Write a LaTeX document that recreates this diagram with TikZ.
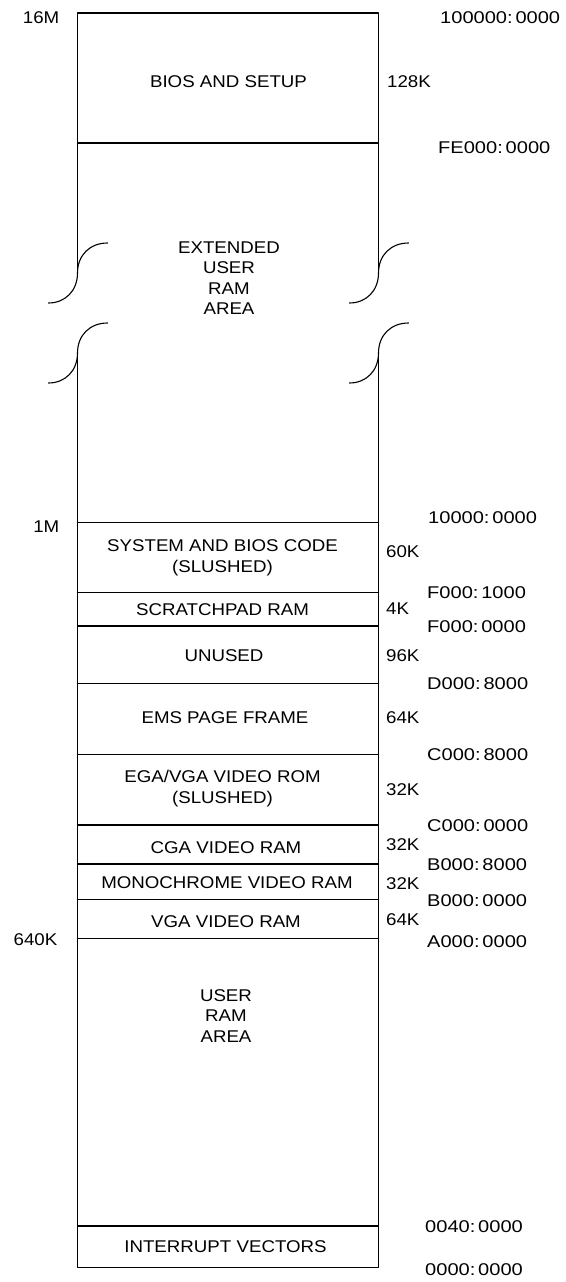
\documentclass[tikz,border=0pt]{standalone}
\usepackage{fontspec}
\setmainfont{Liberation Sans}[FakeStretch=1.1]
\newfontfamily\addrfont{Liberation Sans}[FakeStretch=1.18]
\begin{document}
\begin{tikzpicture}[x=1pt,y=-1pt]
\tikzset{
  wall/.style={line width=1.1pt, line cap=round, line join=round},
  lbl/.style={font=\fontsize{17}{20.5}\selectfont, inner sep=0pt, align=center},
  sizelbl/.style={lbl, anchor=west},
  addrlbl/.style={lbl, font=\addrfont\fontsize{17}{20.5}\selectfont, anchor=west},
  leftlbl/.style={lbl, anchor=east},
  memlbl/.style={lbl}
}
\useasboundingbox (0,0) rectangle (565,1282);
% corners
\coordinate (TL) at (77.5,13);
\coordinate (TR) at (378.5,13);
\coordinate (BL) at (77.5,1267.5);
\coordinate (BR) at (378.5,1267.5);
\coordinate (LA) at (77.5,273);
\coordinate (RA) at (378.5,273);
\coordinate (LB) at (77.5,353);
\coordinate (RB) at (378.5,353);
% outer walls
\draw[wall] (LA) -- (TL) -- (TR) -- (RA);
\draw[wall] (LB) -- (BL) -- (BR) -- (RB);
% dividers
\foreach \y in {143,522.5,592.5,626,683.5,754.5,825,864,899.5,938.5,1226}
  \draw[wall] (77.5,\y) -- (378.5,\y);
% break symbols
\foreach \dx in {0,301}{
  \foreach \dy in {0,80}{
    \draw[wall] (107.5+\dx,243+\dy) .. controls (90+\dx,243+\dy) and (77.5+\dx,255+\dy) .. (77.5+\dx,273+\dy)
      .. controls (77.5+\dx,291+\dy) and (65+\dx,303+\dy) .. (48.5+\dx,303+\dy);
  }
}
% region texts
\node[memlbl] (bios) at (228.5,82) {BIOS AND SETUP};
\node[memlbl] (ext) at (229,278) {EXTENDED\\USER\\RAM\\AREA};
\node[memlbl] (sys) at (222.5,558) {SYSTEM AND BIOS CODE\\(SLUSHED)};
\node[memlbl] (scr) at (222.5,609.5) {SCRATCHPAD RAM};
\node[memlbl] (unu) at (224,655.5) {UNUSED};
\node[memlbl] (ems) at (225,718) {EMS PAGE FRAME};
\node[memlbl] (ega) at (222.5,788.5) {EGA/VGA VIDEO ROM\\(SLUSHED)};
\node[memlbl] (cga) at (226,847.5) {CGA VIDEO RAM};
\node[memlbl] (mono) at (227,883) {MONOCHROME VIDEO RAM};
\node[memlbl] (vga) at (226,921.5) {VGA VIDEO RAM};
\node[memlbl] (user) at (226,1016) {USER\\RAM\\AREA};
\node[memlbl] (intv) at (225.5,1247) {INTERRUPT VECTORS};
% sizes
\node[sizelbl] (s128) at (387,82) {128K};
\node[sizelbl] (s60) at (386,552) {60K};
\node[sizelbl] (s4) at (386,609) {4K};
\node[sizelbl] (s96) at (386,656) {96K};
\node[sizelbl] (s64a) at (386,717.5) {64K};
\node[sizelbl] (s32a) at (386,789.5) {32K};
\node[sizelbl] (s32b) at (386,845) {32K};
\node[sizelbl] (s32c) at (386,884) {32K};
\node[sizelbl] (s64b) at (386,920) {64K};
% addresses
\node[addrlbl] (a1) at (440,18) {100000:\,0000};
\node[addrlbl] (a2) at (438,148) {FE000:\,0000};
\node[addrlbl] (a3) at (428,518) {10000:\,0000};
\node[addrlbl] (a4) at (427,593) {F000:\,1000};
\node[addrlbl] (a5) at (427,627) {F000:\,0000};
\node[addrlbl] (a6) at (427,684) {D000:\,8000};
\node[addrlbl] (a7) at (427,754.5) {C000:\,8000};
\node[addrlbl] (a8) at (427,826) {C000:\,0000};
\node[addrlbl] (a9) at (427,865) {B000:\,8000};
\node[addrlbl] (a10) at (427,901) {B000:\,0000};
\node[addrlbl] (a11) at (427,941.5) {A000:\,0000};
\node[addrlbl] (a12) at (425,1227) {0040:\,0000};
\node[addrlbl] (a13) at (425,1270) {0000:\,0000};
% left labels
\node[leftlbl] (m16) at (59.5,18) {16M};
\node[leftlbl] (m1) at (59.5,527) {1M};
\node[leftlbl] (k640) at (57.5,939.5) {640K};
\end{tikzpicture}
\end{document}
